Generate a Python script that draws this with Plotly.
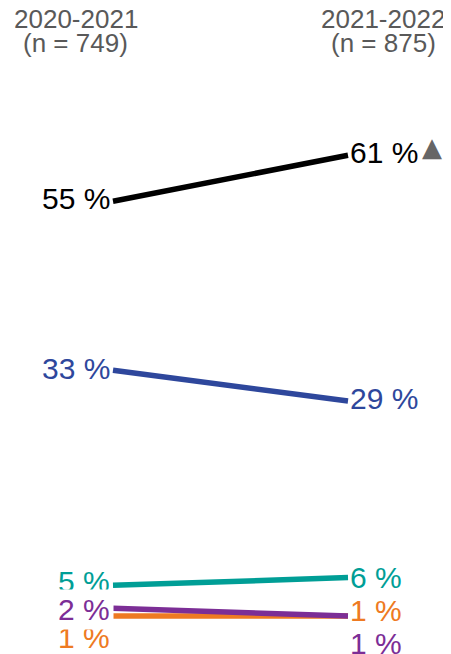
import plotly.graph_objects as go

periods = ["2020-2021", "2021-2022"]
sample_sizes = ["(n = 749)", "(n = 875)"]
series_names = ["A", "B", "C", "D", "E"]
start_values = [55, 33, 5, 1, 2]
end_values = [61, 29, 6, 1, 1]
colors = ["#000000", "#2E479C", "#009E96", "#EE7A22", "#7C2E96"]
left_shift = [3, 2, 4, -21, -1]
right_shift = [3, 2, 0, 6, -27]
left_bg = [None, None, None, "white", "white"]
left_pad = [1, 1, 1, 1, 3]

fig = go.Figure()
for name, s, e, c in zip(series_names, start_values, end_values, colors):
    fig.add_trace(go.Scatter(x=[0, 1], y=[s, e], mode="lines", line=dict(color=c, width=5.5),
                             name=name, hoverinfo="skip"))

font_family = "Liberation Sans, Arial, sans-serif"
for s, c, ls, bg, bp in zip(start_values, colors, left_shift, left_bg, left_pad):
    fig.add_annotation(x=0, y=s, text=f"{s} %", xanchor="right", yanchor="middle", showarrow=False,
                       xshift=-1 + (bp - 1), yshift=ls, bgcolor=bg, borderpad=bp,
                       font=dict(size=30, color=c, family=font_family))
for e, c, rs in zip(end_values, colors, right_shift):
    fig.add_annotation(x=1, y=e, text=f"{e} %", xanchor="left", yanchor="middle", showarrow=False,
                       xshift=0, yshift=rs, font=dict(size=30, color=c, family=font_family))

# significance marker
fig.add_annotation(x=1, y=end_values[0], text="▲", xanchor="center", yanchor="middle", showarrow=False,
                   xshift=84, yshift=8, font=dict(size=26, color="#666666", family="DejaVu Sans"))

header_x = [(75.5 - 8) / 443, (383 - 8) / 443]
for hx, p, n in zip(header_x, periods, sample_sizes):
    fig.add_annotation(x=hx, y=1, xref="paper", yref="paper", text=p,
                       xanchor="center", yanchor="middle", showarrow=False, yshift=-11,
                       font=dict(size=26, color="#595959", family=font_family))
    fig.add_annotation(x=hx, y=1, xref="paper", yref="paper", text=n,
                       xanchor="center", yanchor="middle", showarrow=False, yshift=-34.5,
                       font=dict(size=26, color="#595959", family=font_family))

fig.update_layout(
    width=443, height=646, margin=dict(l=0, r=0, t=0, b=0),
    paper_bgcolor="white", plot_bgcolor="white", showlegend=False,
    xaxis=dict(range=[-105 / 235, (443 - 105) / 235], visible=False, fixedrange=True),
    yaxis=dict(range=[(615.7 - 646) / 7.68, 615.7 / 7.68], visible=False, fixedrange=True),
)
fig.write_html("out.html")
